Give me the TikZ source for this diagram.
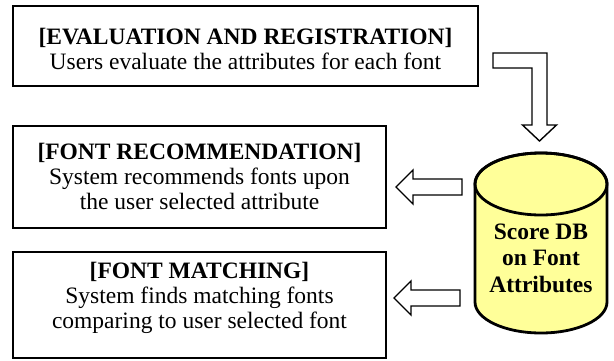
\documentclass[tikz,border=0pt]{standalone}
\usepackage{fontspec}
\setmainfont{Liberation Serif}
\definecolor{dbfill}{HTML}{FFFF99}
\begin{document}
\begin{tikzpicture}[x=1pt,y=-1pt,
  box/.style={draw=black, line width=1.4pt, inner sep=0pt},
  txt/.style={align=center, inner sep=0pt, font=\fontsize{23.5}{25}\selectfont},
  dbtext/.style={align=center, inner sep=0pt, font=\fontsize{23.5}{26.5}\selectfont\bfseries},
  blockarrow/.style={draw=black, fill=white, line width=1.4pt, line join=miter},
  dbshape/.style={draw=black, fill=dbfill, line width=2.8pt}]
\useasboundingbox (0,0) rectangle (614,360);

% boxes
\node[box, minimum width=465pt, minimum height=80pt] (eval) at (245.5,46) {};
\node[txt] (evalt) at (245.5,49) {\textbf{[EVALUATION AND REGISTRATION]}\\Users evaluate the attributes for each font};

\node[box, minimum width=373pt, minimum height=102pt] (rec) at (199.5,177) {};
\node[txt] (rect) at (199.5,176) {\textbf{[FONT RECOMMENDATION]}\\System recommends fonts upon\\the user selected attribute};

\node[box, minimum width=373pt, minimum height=106pt] (match) at (199.5,305) {};
\node[txt] (matcht) at (199.5,298) {\textbf{[FONT MATCHING]}\\System finds matching fonts\\comparing to user selected font};

% database cylinder
\path[dbshape] (475,184) -- (475,302) arc[start angle=180, end angle=360, x radius=66pt, y radius=31pt] -- (607,184) arc[start angle=0, end angle=180, x radius=66pt, y radius=31pt] -- cycle;
\draw[line width=2.8pt] (541,184) ellipse[x radius=66pt, y radius=31pt];
\node[dbtext] (db) at (541,258) {Score DB\\on Font\\Attributes};

% block arrows
\draw[blockarrow] (493,53) -- (547,53) -- (547,125) -- (556.5,125) -- (539.5,141) -- (522.5,125) -- (532,125) -- (532,68) -- (493,68) -- cycle;
\draw[blockarrow] (462,179) -- (413,179) -- (413,170) -- (396,187) -- (413,204) -- (413,195) -- (462,195) -- cycle;
\draw[blockarrow] (460,290) -- (411,290) -- (411,281) -- (394,298) -- (411,315) -- (411,306) -- (460,306) -- cycle;
\end{tikzpicture}
\end{document}
